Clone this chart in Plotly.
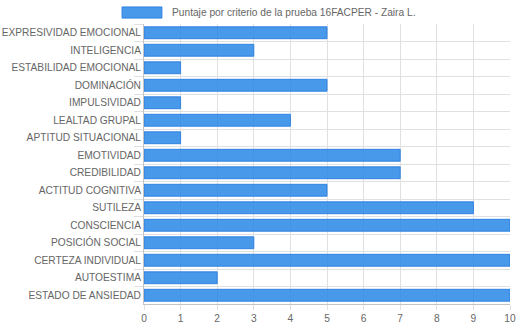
import plotly.graph_objects as go

# Puntajes por criterio, prueba 16FACPER
criterios = [
    "EXPRESIVIDAD EMOCIONAL", "INTELIGENCIA", "ESTABILIDAD EMOCIONAL", "DOMINACIÓN",
    "IMPULSIVIDAD", "LEALTAD GRUPAL", "APTITUD SITUACIONAL", "EMOTIVIDAD",
    "CREDIBILIDAD", "ACTITUD COGNITIVA", "SUTILEZA", "CONSCIENCIA",
    "POSICIÓN SOCIAL", "CERTEZA INDIVIDUAL", "AUTOESTIMA", "ESTADO DE ANSIEDAD",
]
puntajes = [5, 3, 1, 5, 1, 4, 1, 7, 7, 5, 9, 10, 3, 10, 2, 10]
serie = "Puntaje por criterio de la prueba 16FACPER - Zaira L."
x_ticks = list(range(0, 11))

FONT = "Liberation Sans, Arial, sans-serif"
FS = 10.2
GRID = "#e0e0e0"
AXIS = "#c4c4c4"
TEXT = "#666666"
FILL = "rgba(40,135,230,0.85)"
EDGE = "rgba(40,125,225,0.9)"

fig = go.Figure(
    go.Bar(
        x=puntajes,
        y=criterios,
        orientation="h",
        name=serie,
        marker=dict(color=FILL, line=dict(color=EDGE, width=1)),
    )
)

fig.update_layout(
    width=518, height=328,
    margin=dict(l=144, r=8, t=24, b=24),
    paper_bgcolor="white", plot_bgcolor="white",
    bargap=0.32,
    showlegend=False,
    font=dict(family=FONT, size=FS, color=TEXT),
)

fig.update_xaxes(
    range=[0, 10], tickvals=x_ticks,
    showgrid=True, gridcolor=GRID, gridwidth=1,
    showline=True, linecolor=AXIS, linewidth=1,
    ticks="outside", ticklen=5, tickcolor=GRID,
    ticklabelstandoff=0,
    zeroline=False, automargin=False,
    tickfont=dict(size=FS, color=TEXT),
)
fig.update_yaxes(
    type="category", autorange="reversed",
    tickson="boundaries",
    showgrid=True, gridcolor=GRID, gridwidth=1,
    showline=True, linecolor=AXIS, linewidth=1,
    ticks="outside", ticklen=9, tickcolor=GRID,
    automargin=False,
    tickfont=dict(size=FS, color=TEXT),
)

# legend box drawn above the plot
fig.add_shape(type="rect", xref="paper", yref="paper",
              x0=-0.060, x1=0.049, y0=1.021, y1=1.061,
              fillcolor=FILL, line=dict(color=EDGE, width=1))
fig.add_annotation(text=serie, xref="paper", yref="paper",
                   x=0.071, y=1.041, xanchor="left", yanchor="middle",
                   showarrow=False, font=dict(size=FS, color=TEXT))

fig.write_html("out.html")
